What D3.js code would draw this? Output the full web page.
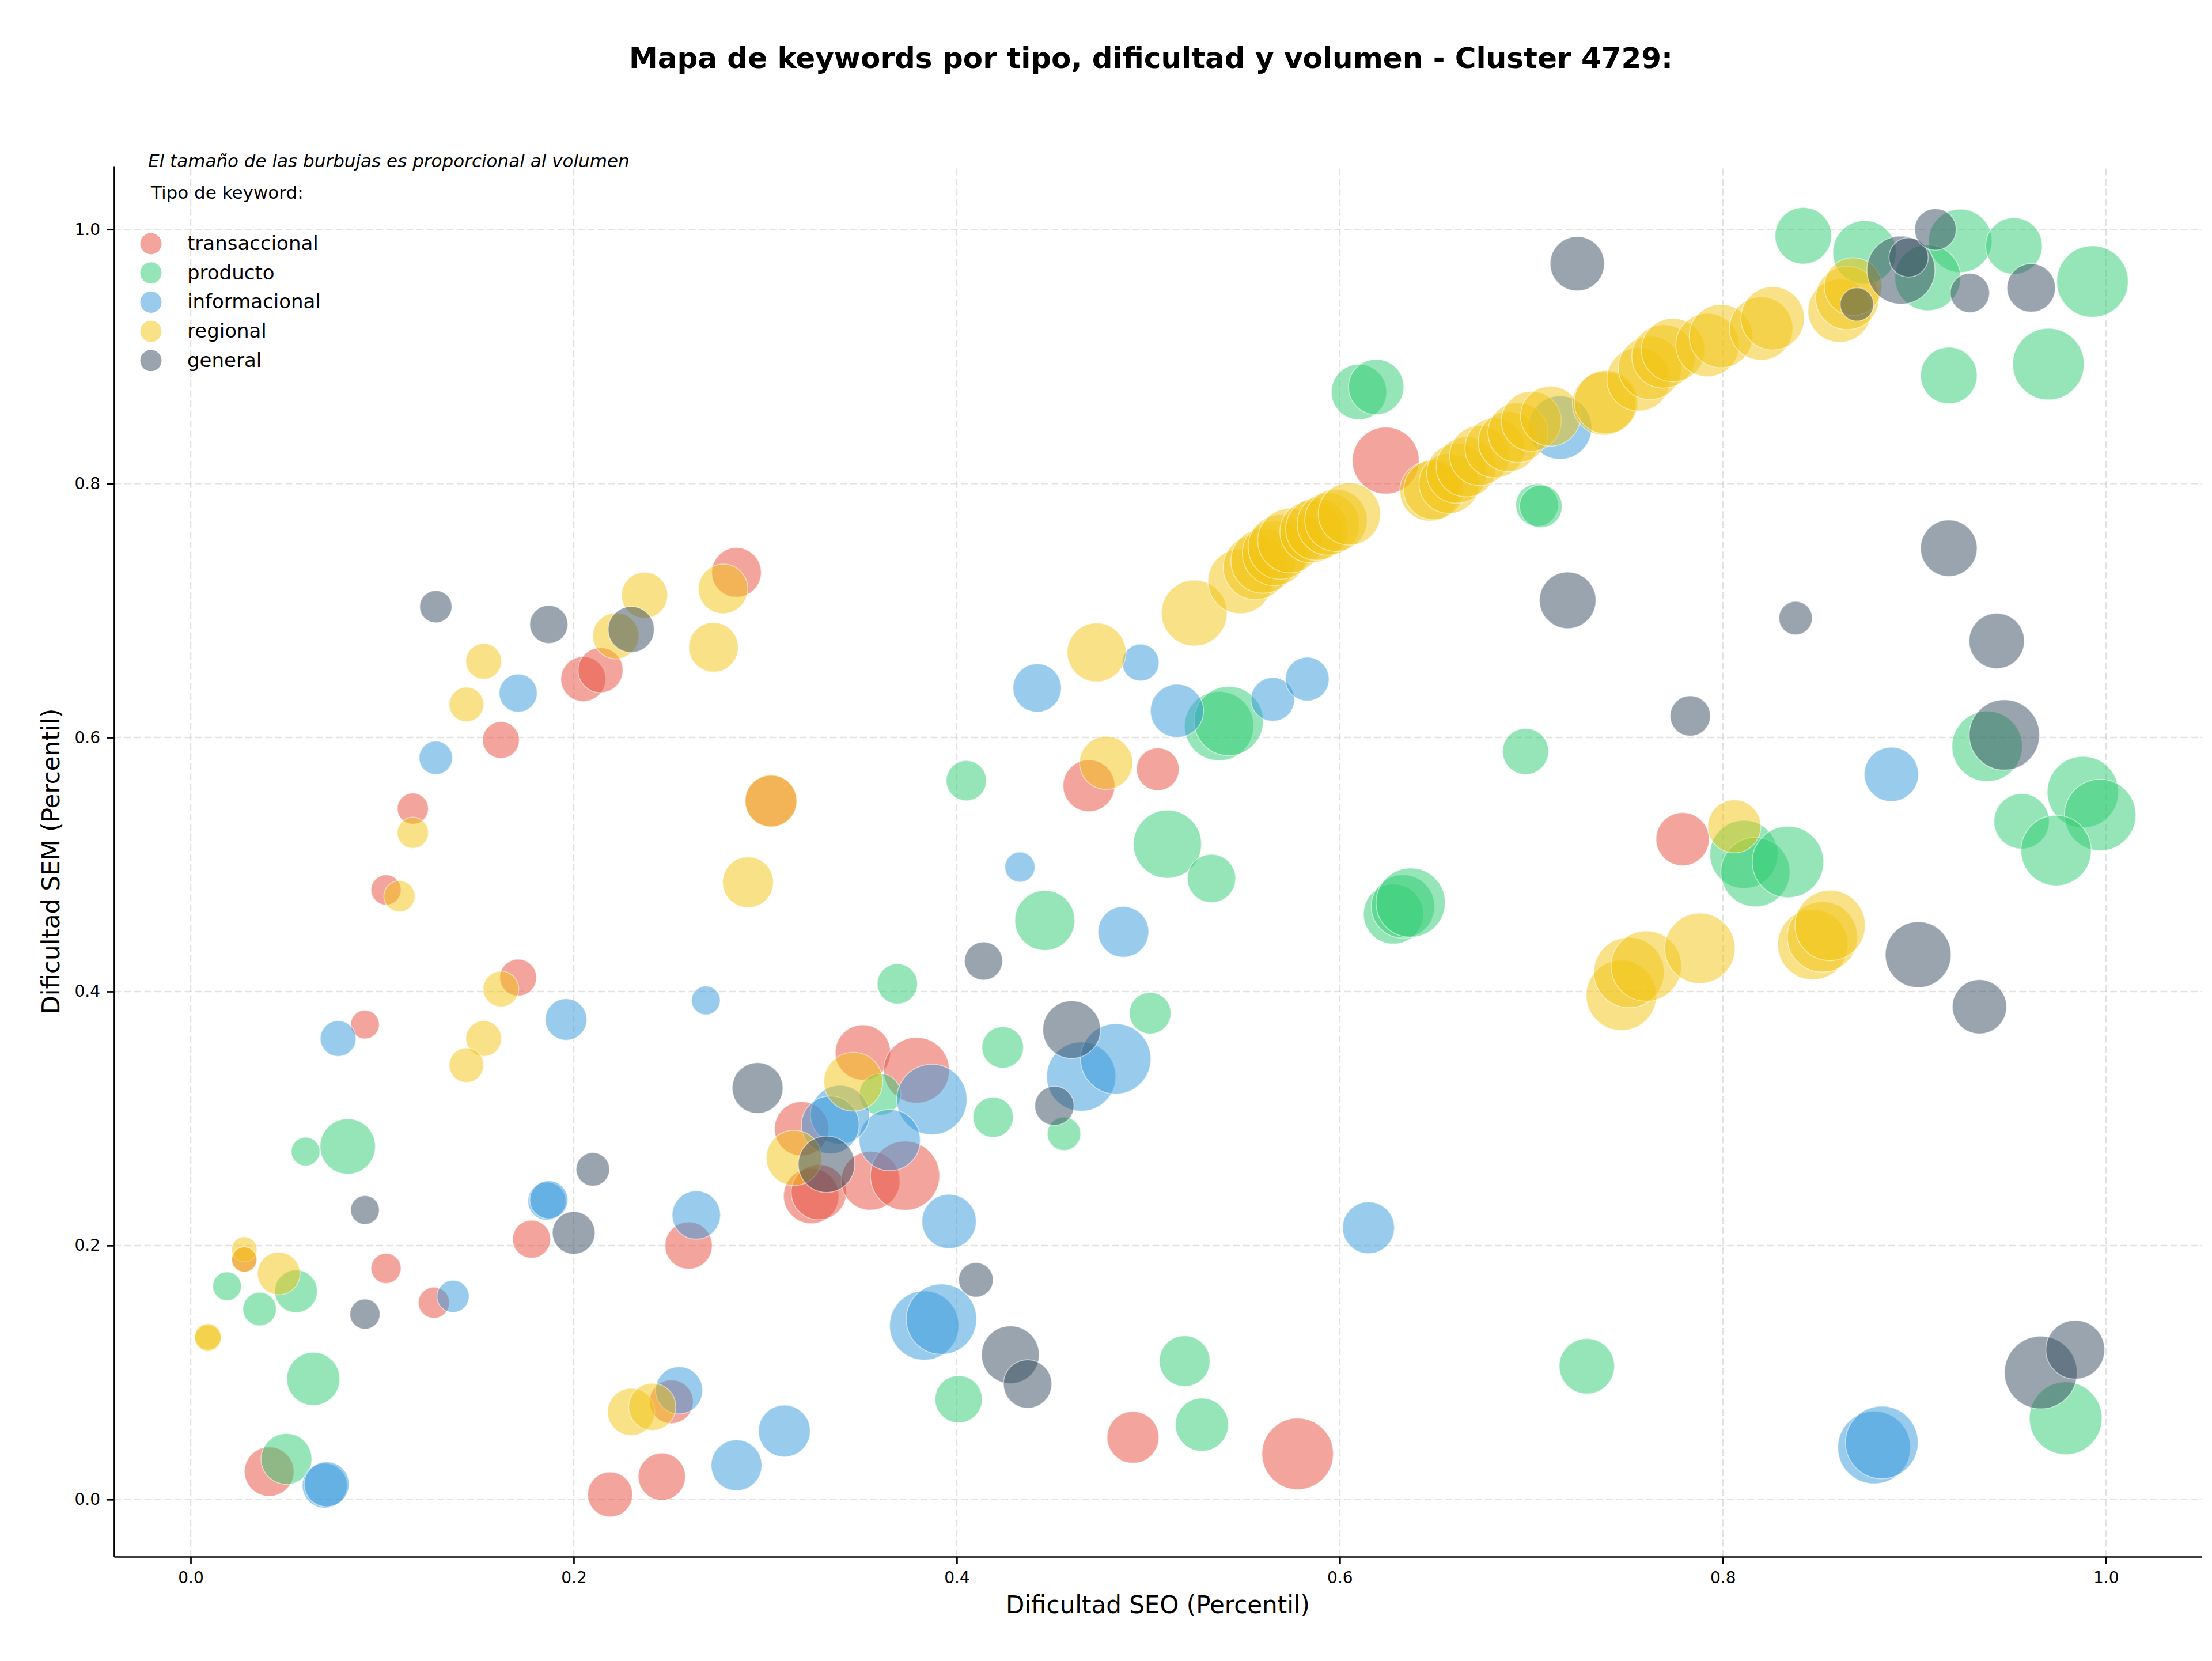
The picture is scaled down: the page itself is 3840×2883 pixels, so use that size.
<!DOCTYPE html>
<html>
<head>
<meta charset="utf-8">
<script src="https://cdn.jsdelivr.net/npm/d3@7"></script>
<style>
  body { margin: 0; background: #fff; }
  text { font-family: "DejaVu Sans", sans-serif; }
</style>
</head>
<body>
<div id="chart"></div>
<script>
////////////////////////////  Data  ////////////////////////////
// [dificultad SEO, dificultad SEM, volumen]
const tipos = ["transaccional", "producto", "informacional", "regional", "general"];

const transaccional = [
  [0.041, 0.022, 1850], [0.219, 0.004, 1520], [0.246, 0.018, 1680], [0.260, 0.200, 1680],
  [0.178, 0.205, 1090], [0.127, 0.155, 730], [0.102, 0.182, 680], [0.091, 0.374, 620],
  [0.102, 0.480, 680], [0.116, 0.544, 730], [0.171, 0.411, 1020], [0.162, 0.598, 1020],
  [0.205, 0.646, 1520], [0.214, 0.653, 1520], [0.285, 0.730, 1850], [0.469, 0.562, 2020],
  [0.505, 0.575, 1370], [0.624, 0.818, 3360], [0.779, 0.520, 2120], [0.492, 0.049, 2020],
  [0.578, 0.036, 3840], [0.351, 0.352, 2300], [0.379, 0.338, 3250], [0.319, 0.292, 2210],
  [0.324, 0.239, 2300], [0.328, 0.242, 2300], [0.355, 0.251, 2600], [0.373, 0.255, 3600],
  [0.303, 0.550, 2020], [0.028, 0.189, 480], [0.251, 0.077, 1440]
];

const producto = [
  [0.082, 0.278, 2300], [0.060, 0.274, 620], [0.019, 0.168, 620], [0.036, 0.150, 840],
  [0.055, 0.164, 1370], [0.064, 0.095, 2120], [0.050, 0.032, 1940], [0.405, 0.566, 1220],
  [0.510, 0.516, 3480], [0.533, 0.489, 1760], [0.537, 0.609, 3600], [0.542, 0.613, 3600],
  [0.610, 0.872, 2300], [0.619, 0.876, 2300], [0.703, 0.783, 1370], [0.705, 0.782, 1370],
  [0.697, 0.589, 1600], [0.446, 0.456, 2700], [0.369, 0.406, 1220], [0.424, 0.356, 1300],
  [0.419, 0.301, 1220], [0.456, 0.288, 840], [0.501, 0.383, 1300], [0.628, 0.461, 2700],
  [0.633, 0.467, 3020], [0.637, 0.470, 3600], [0.360, 0.319, 1300], [0.401, 0.079, 1680],
  [0.519, 0.109, 1940], [0.528, 0.059, 2120], [0.729, 0.105, 2300], [0.979, 0.064, 3970],
  [0.938, 0.593, 3720], [0.988, 0.557, 3840], [0.997, 0.539, 3840], [0.956, 0.534, 2300],
  [0.974, 0.511, 3720], [0.811, 0.508, 3480], [0.817, 0.494, 3600], [0.834, 0.502, 3840],
  [0.918, 0.885, 2400], [0.970, 0.894, 3840], [0.993, 0.959, 3840], [0.842, 0.995, 2400],
  [0.874, 0.982, 3020], [0.924, 0.991, 3020], [0.952, 0.987, 2400], [0.907, 0.962, 3250]
];

const informacional = [
  [0.070, 0.011, 1520], [0.071, 0.012, 1520], [0.077, 0.363, 960], [0.137, 0.160, 780],
  [0.186, 0.235, 1090], [0.187, 0.236, 1090], [0.196, 0.378, 1300], [0.269, 0.393, 620],
  [0.264, 0.224, 1760], [0.255, 0.086, 1680], [0.285, 0.027, 1940], [0.310, 0.054, 2020],
  [0.128, 0.584, 840], [0.171, 0.635, 1090], [0.442, 0.639, 1760], [0.496, 0.659, 1020],
  [0.515, 0.621, 2120], [0.565, 0.630, 1440], [0.583, 0.646, 1440], [0.433, 0.498, 680],
  [0.487, 0.447, 1940], [0.465, 0.333, 3600], [0.483, 0.347, 3720], [0.387, 0.315, 3720],
  [0.365, 0.283, 2810], [0.396, 0.219, 2210], [0.383, 0.137, 3600], [0.392, 0.142, 3720],
  [0.615, 0.214, 2020], [0.339, 0.303, 2600], [0.334, 0.295, 2500], [0.888, 0.571, 2210],
  [0.879, 0.041, 3970], [0.883, 0.045, 3970], [0.715, 0.844, 3020]
];

const regional = [
  [0.009, 0.127, 530], [0.009, 0.128, 530], [0.028, 0.197, 480], [0.028, 0.189, 480],
  [0.046, 0.178, 1370], [0.109, 0.475, 730], [0.116, 0.525, 730], [0.153, 0.363, 960],
  [0.144, 0.342, 900], [0.162, 0.402, 960], [0.144, 0.626, 900], [0.153, 0.660, 960],
  [0.222, 0.680, 1600], [0.237, 0.712, 1600], [0.278, 0.717, 1850], [0.273, 0.671, 1850],
  [0.303, 0.550, 2020], [0.291, 0.486, 1940], [0.230, 0.069, 1680], [0.241, 0.073, 1680],
  [0.473, 0.667, 2600], [0.478, 0.580, 2120], [0.524, 0.698, 3250],
  [0.548, 0.723, 3140], [0.556, 0.734, 3140], [0.560, 0.739, 3140], [0.566, 0.745, 3140],
  [0.569, 0.750, 3140], [0.574, 0.755, 3140], [0.585, 0.762, 2920], [0.588, 0.764, 2920],
  [0.594, 0.768, 2920], [0.598, 0.771, 2920], [0.605, 0.776, 2920], [0.647, 0.794, 2700],
  [0.649, 0.795, 2700], [0.657, 0.800, 2700], [0.661, 0.808, 2700], [0.666, 0.813, 2700],
  [0.673, 0.822, 2700], [0.681, 0.828, 2700], [0.688, 0.833, 2700], [0.693, 0.840, 2700],
  [0.700, 0.849, 2700], [0.710, 0.853, 2700], [0.738, 0.863, 3020], [0.739, 0.864, 3020],
  [0.756, 0.882, 3020], [0.762, 0.891, 3020], [0.769, 0.900, 3020], [0.774, 0.905, 3020],
  [0.792, 0.909, 3020], [0.799, 0.916, 3020], [0.820, 0.922, 3020], [0.826, 0.930, 3020],
  [0.861, 0.936, 3020], [0.865, 0.946, 3020], [0.868, 0.955, 2500],
  [0.747, 0.397, 3720], [0.751, 0.415, 3720], [0.760, 0.420, 3720], [0.788, 0.434, 3720],
  [0.847, 0.437, 3720], [0.852, 0.443, 3720], [0.856, 0.452, 3720], [0.806, 0.530, 2120],
  [0.346, 0.329, 2600], [0.315, 0.269, 2300]
];

const general = [
  [0.091, 0.228, 620], [0.091, 0.146, 680], [0.210, 0.260, 840], [0.200, 0.210, 1370],
  [0.296, 0.324, 1940], [0.128, 0.703, 780], [0.187, 0.689, 1090], [0.230, 0.685, 1600],
  [0.332, 0.264, 2400], [0.414, 0.424, 1090], [0.460, 0.370, 2500], [0.451, 0.310, 1160],
  [0.410, 0.173, 900], [0.428, 0.114, 2500], [0.437, 0.091, 1760], [0.724, 0.973, 2210],
  [0.719, 0.708, 2400], [0.783, 0.617, 1220], [0.838, 0.694, 840], [0.918, 0.749, 2400],
  [0.943, 0.676, 2300], [0.947, 0.602, 3720], [0.893, 0.968, 3480], [0.897, 0.978, 1160],
  [0.911, 1.000, 1300], [0.929, 0.950, 1160], [0.961, 0.954, 1760], [0.902, 0.429, 3250],
  [0.934, 0.388, 2210], [0.966, 0.100, 3970], [0.984, 0.118, 2600], [0.870, 0.941, 840]
];

const series = [transaccional, producto, informacional, regional, general];
const ticks = [0, 0.2, 0.4, 0.6, 0.8, 1.0];

const titulo = "Mapa de keywords por tipo, dificultad y volumen - Cluster 4729:";
const nota = "El tamaño de las burbujas es proporcional al volumen";

////////////////////////////  Init  ////////////////////////////
const width = 3840;
const height = 2883;
const colors = ["#e74c3c", "#2ecc71", "#3498db", "#f1c40f", "#34495e"];
const alpha = 0.5;

const svg = d3.select("#chart").append("svg")
  .attr("width", width)
  .attr("height", height);

svg.append("rect").attr("width", width).attr("height", height).attr("fill", "#fff");

// scales
const x = d3.scaleLinear().domain([-0.04, 1.05]).range([198, 3822]);
const y = d3.scaleLinear().domain([-0.045, 1.05]).range([2702, 288]);
const r = d3.scaleSqrt().domain([0, 4000]).range([0, 63.25]);

// grid
const grid = svg.append("g");
grid.selectAll(".vgrid")
  .data(ticks)
  .enter()
  .append("line")
  .attr("x1", (d) => x(d))
  .attr("x2", (d) => x(d))
  .attr("y1", y.range()[0])
  .attr("y2", y.range()[1])
  .attr("stroke", "#b0b0b0")
  .attr("stroke-opacity", 0.35)
  .attr("stroke-width", 2.5)
  .attr("stroke-dasharray", "12,5.5");

grid.selectAll(".hgrid")
  .data(ticks)
  .enter()
  .append("line")
  .attr("x1", x.range()[0])
  .attr("x2", x.range()[1])
  .attr("y1", (d) => y(d))
  .attr("y2", (d) => y(d))
  .attr("stroke", "#b0b0b0")
  .attr("stroke-opacity", 0.35)
  .attr("stroke-width", 2.5)
  .attr("stroke-dasharray", "12,5.5");

// bubbles, one layer per type
const plot = svg.append("g");
series.forEach((data, i) => {
  plot.append("g")
    .selectAll("circle")
    .data(data)
    .enter()
    .append("circle")
    .attr("cx", (d) => x(d[0]))
    .attr("cy", (d) => y(d[1]))
    .attr("r", (d) => r(d[2]))
    .attr("fill", colors[i])
    .attr("fill-opacity", alpha)
    .attr("stroke", "#fff")
    .attr("stroke-opacity", alpha)
    .attr("stroke-width", 1.7);
});

// axes
const xAxis = svg.append("g")
  .attr("transform", `translate(0, ${y.range()[0]})`)
  .call(d3.axisBottom(x).tickValues(ticks).tickFormat(d3.format(".1f"))
    .tickSize(12).tickSizeOuter(0).tickPadding(14));

const yAxis = svg.append("g")
  .attr("transform", `translate(${x.range()[0]}, 0)`)
  .call(d3.axisLeft(y).tickValues(ticks).tickFormat(d3.format(".1f"))
    .tickSize(12).tickSizeOuter(0).tickPadding(12));

[xAxis, yAxis].forEach((a) => {
  a.select(".domain").attr("stroke", "#000").attr("stroke-width", 2.7);
  a.selectAll(".tick line").attr("stroke", "#000").attr("stroke-width", 2.7);
  a.selectAll(".tick text")
    .attr("fill", "#000")
    .style("font-family", "DejaVu Sans")
    .style("font-size", "28px");
});

// axis labels
svg.append("text")
  .attr("x", 2010)
  .attr("y", 2800)
  .attr("text-anchor", "middle")
  .style("font-size", "42px")
  .text("Dificultad SEO (Percentil)");

svg.append("text")
  .attr("transform", "translate(103, 1495) rotate(-90)")
  .attr("text-anchor", "middle")
  .style("font-size", "42px")
  .text("Dificultad SEM (Percentil)");

// title
svg.append("text")
  .attr("x", 1998)
  .attr("y", 118)
  .attr("text-anchor", "middle")
  .style("font-size", "50px")
  .style("font-weight", "bold")
  .text(titulo);

// note
svg.append("text")
  .attr("x", 257)
  .attr("y", 290)
  .style("font-size", "31px")
  .style("font-style", "italic")
  .text(nota);

// legend
const legend = svg.append("g");
legend.append("text")
  .attr("x", 262)
  .attr("y", 345)
  .style("font-size", "31px")
  .text("Tipo de keyword:");

const items = legend.selectAll(".item")
  .data(tipos)
  .enter()
  .append("g")
  .attr("transform", (d, i) => `translate(262, ${423 + i * 50.7})`);

items.append("circle")
  .attr("r", 18.5)
  .attr("fill", (d, i) => colors[i])
  .attr("fill-opacity", alpha);

items.append("text")
  .attr("x", 63)
  .attr("y", 11)
  .style("font-size", "34px")
  .text((d) => d);
</script>
</body>
</html>
